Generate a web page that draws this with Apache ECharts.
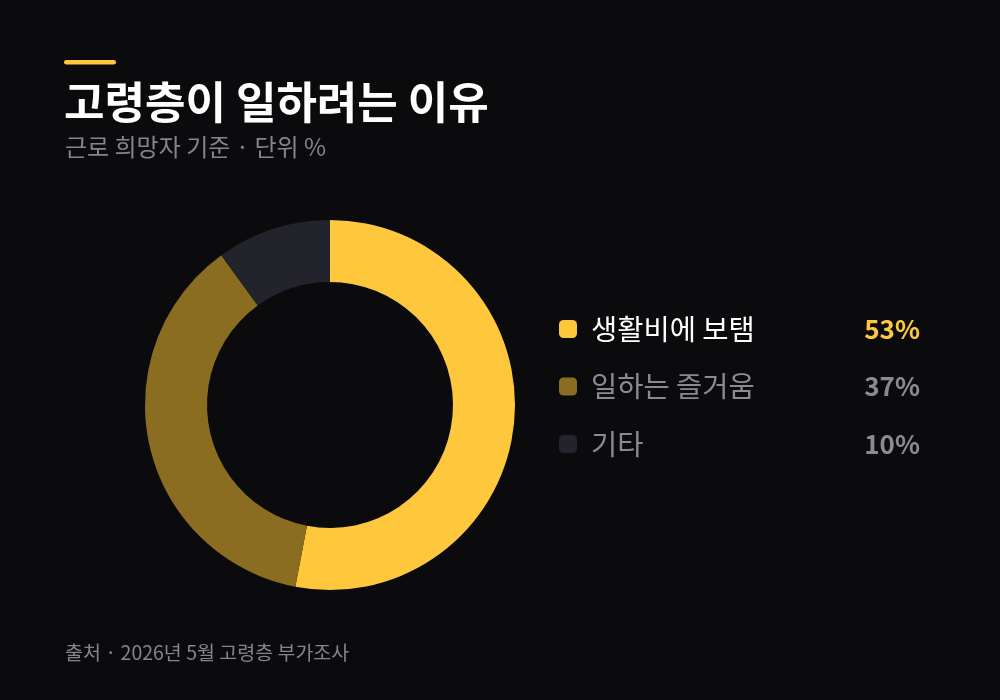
<!DOCTYPE html>
<html><head><meta charset="utf-8">
<script src="https://cdn.jsdelivr.net/npm/echarts@6/dist/echarts.min.js"></script>
<style>html,body{margin:0;padding:0;background:#0b0b0d;}#c{width:1000px;height:700px;}</style>
</head><body><div id="c"></div>
<script>
const categories = ['생활비에 보탬', '일하는 즐거움', '기타'];
const values = [53, 37, 10];
const colors = ['#FFC83C', '#8A6D20', '#23242B'];
const titleText = '고령층이 일하려는 이유';
const subtitleText = '근로 희망자 기준 · 단위 %';
const sourceText = '출처 · 2026년 5월 고령층 부가조사';

const FONT = '"Noto Sans CJK KR", "Noto Sans", sans-serif';
const chart = echarts.init(document.getElementById('c'));
chart.setOption({
  backgroundColor: '#0b0b0d',
  animation: false,
  graphic: [
    { type: 'rect', left: 64, top: 60, shape: { width: 52, height: 4.5, r: 2.25 }, style: { fill: '#FFC83C' } },
    { type: 'text', left: 64, top: 80, style: { text: titleText, fill: '#ffffff', font: 'bold 44px ' + FONT } },
    { type: 'text', left: 65, top: 135, style: { text: subtitleText, fill: '#85858c', font: '24px ' + FONT } },
    { type: 'text', left: 65, top: 643, style: { text: sourceText, fill: '#85858c', font: '19.5px ' + FONT } }
  ],
  legend: {
    orient: 'vertical',
    left: 559,
    top: 314,
    padding: 0,
    itemWidth: 18,
    itemHeight: 18,
    itemGap: 27.5,
    itemTextGap: 15,
    icon: 'roundRect',
    selectedMode: false,
    data: categories,
    formatter: function (name) {
      const i = categories.indexOf(name);
      if (i === 0) return '{s| }{n0|' + name + '}{v0|' + values[i] + '%}';
      return '{s| }{n|' + name + '}{v|' + values[i] + '%}';
    },
    textStyle: {
      fontFamily: FONT,
      lineHeight: 30,
      rich: {
        s: { width: 9, fontSize: 10, lineHeight: 30 },
        n0: { color: '#ffffff', fontSize: 28.5, lineHeight: 30, width: 240, fontFamily: FONT },
        v0: { color: '#FFC83C', fontSize: 26, lineHeight: 30, fontWeight: 'bold', width: 89, align: 'right', fontFamily: FONT },
        n: { color: '#8a8a91', fontSize: 28.5, lineHeight: 30, width: 240, fontFamily: FONT },
        v: { color: '#8a8a91', fontSize: 26, lineHeight: 30, fontWeight: 'bold', width: 89, align: 'right', fontFamily: FONT }
      }
    }
  },
  series: [{
    type: 'pie',
    center: [330, 405],
    radius: [123, 185],
    startAngle: 90,
    clockwise: true,
    label: { show: false },
    labelLine: { show: false },
    emphasis: { disabled: true },
    itemStyle: { borderWidth: 0 },
    data: categories.map((c, i) => ({ name: c, value: values[i], itemStyle: { color: colors[i] } }))
  }]
});
</script></body></html>
